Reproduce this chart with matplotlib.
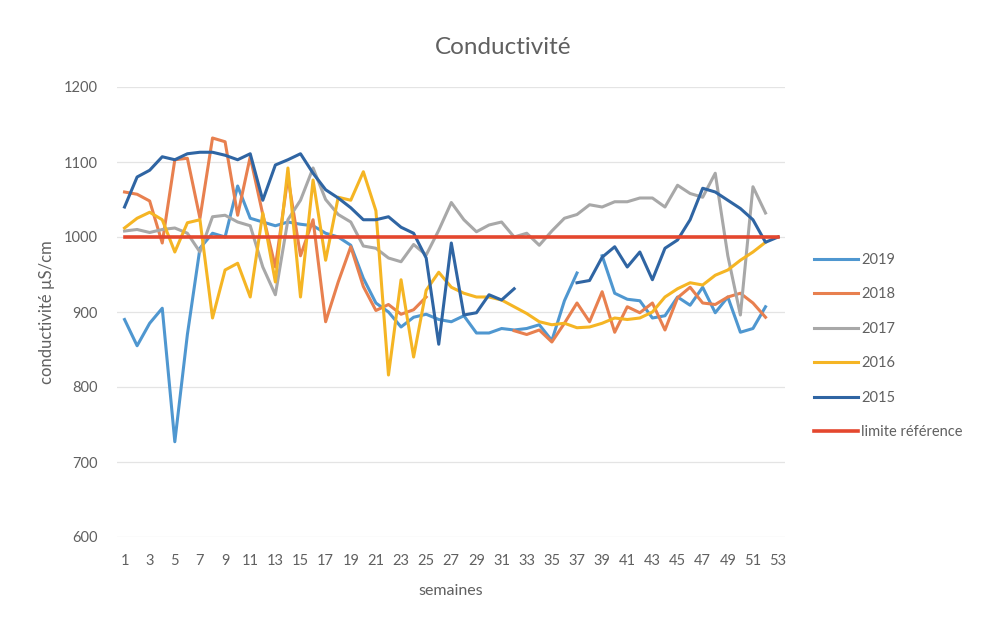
import numpy as np
import matplotlib
matplotlib.use("Agg")
import matplotlib.pyplot as plt

nan = np.nan
weeks = list(range(1, 54))

s2019 = [890, 855, 885, 905, 727, 870, 985, 1005, 1000, 1068,
         1025, 1020, 1015, 1020, 1017, 1015, 1005, 1000, 989, 945,
         912, 900, 880, 893, 897, 890, 887, 895, 872, 872,
         878, 876, 878, 883, 862, 915, 952, nan, 975, 925,
         917, 915, 892, 895, 920, 909, 933, 899, 920, 873,
         878, 907, nan]
s2018 = [1060, 1057, 1048, 992, 1103, 1105, 1025, 1132, 1127, 1029,
         1107, 1030, 960, 1080, 975, 1023, 887, 940, 987, 934,
         902, 910, 897, 903, 920, nan, nan, nan, nan, nan,
         nan, 875, 870, 876, 860, 885, 912, 887, 927, 873,
         907, 899, 912, 876, 919, 933, 912, 910, 920, 925,
         912, 893, nan]
s2017 = [1008, 1010, 1006, 1010, 1012, 1005, 980, 1027, 1029, 1020,
         1015, 960, 923, 1023, 1049, 1092, 1050, 1030, 1020, 988,
         985, 972, 967, 990, 976, 1009, 1046, 1023, 1007, 1016,
         1020, 1000, 1005, 989, 1008, 1025, 1030, 1043, 1040, 1047,
         1047, 1052, 1052, 1040, 1069, 1058, 1053, 1085, 975, 896,
         1067, 1032, nan]
s2016 = [1012, 1025, 1033, 1023, 980, 1019, 1023, 892, 956, 965,
         920, 1032, 940, 1092, 920, 1076, 969, 1053, 1049, 1087,
         1035, 816, 943, 840, 929, 953, 933, 925, 920, 920,
         916, 907, 898, 887, 883, 885, 879, 880, 885, 892,
         890, 892, 900, 920, 931, 939, 936, 949, 956, 969,
         980, 993, nan]
s2015 = [1040, 1080, 1089, 1107, 1103, 1111, 1113, 1113, 1109, 1103,
         1111, 1049, 1096, 1103, 1111, 1085, 1063, 1052, 1039, 1023,
         1023, 1027, 1013, 1005, 972, 857, 992, 896, 899, 923,
         916, 931, nan, nan, nan, nan, 939, 942, 973, 987,
         960, 980, 943, 985, 996, 1023, 1065, 1060, 1049, 1038,
         1023, 993, 1000]
limite = [1000] * 53

series = [
    ("2019", s2019, "#4F97D0"),
    ("2018", s2018, "#E8804F"),
    ("2017", s2017, "#A8A8A8"),
    ("2016", s2016, "#F5B524"),
    ("2015", s2015, "#2F65A3"),
    ("limite référence", limite, "#E4472E"),
]

plt.rcParams['font.family'] = ['Lato', 'DejaVu Sans']
txt = "#606060"

fig = plt.figure(figsize=(9.83, 6.18), dpi=100)
ax = fig.add_axes([117/983, 1 - 537/618, (785-117)/983, (537-87)/618])

for name, vals, col in series:
    lw = 2.6 if name == "limite référence" else 2.2
    ax.plot(weeks, vals, color=col, lw=lw, label=name, solid_joinstyle='round')

ax.set_xlim(0.4, 53.55)
ax.set_ylim(600, 1200)
ax.set_yticks(range(600, 1201, 100))
ax.set_xticks(list(range(1, 54, 2)))
ax.grid(axis='y', color='#E4E4E4', lw=0.9)
ax.set_axisbelow(True)
for sp in ax.spines.values():
    sp.set_visible(False)
ax.tick_params(length=0, labelsize=10.5, colors=txt, pad=12)
ax.tick_params(axis='y', pad=14)

ax.set_xlabel("semaines", fontsize=11.5, color=txt, labelpad=12)
ax.set_ylabel("conductivité µS/cm", fontsize=12, color=txt, labelpad=6)
fig.text(503/983, 1 - 47/618, "Conductivité", ha='center', va='center',
         fontsize=17.5, color=txt)

leg = ax.legend(loc='center left', bbox_to_anchor=(0.815, 0.44),
                bbox_transform=fig.transFigure, frameon=False,
                fontsize=10.5, handlelength=3.0, handletextpad=0.2,
                labelspacing=1.4)
for t in leg.get_texts():
    t.set_color(txt)

fig.savefig("out.png", dpi=100)
